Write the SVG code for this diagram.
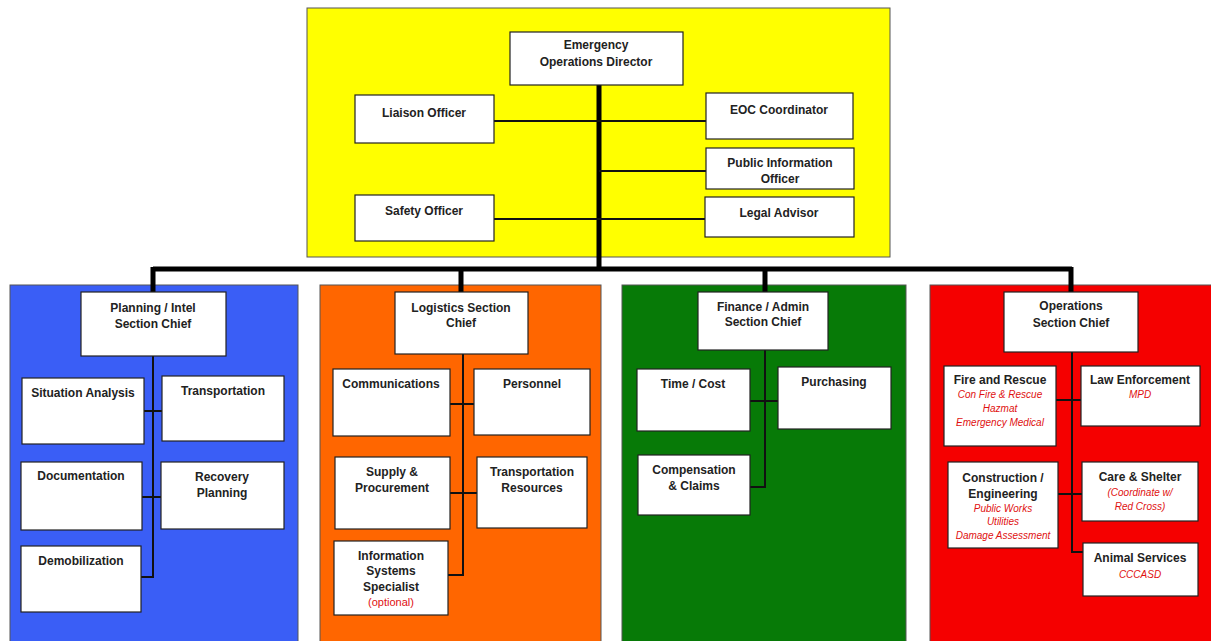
<svg xmlns="http://www.w3.org/2000/svg" width="1211" height="641" viewBox="0 0 1211 641">
<style>
.bg{fill:#ffffff}
.panel{stroke:#555;stroke-width:1}
.box{fill:#fff;stroke:#222;stroke-width:1.2}
.t{font-family:"Liberation Sans",Arial,sans-serif;font-size:12px;font-weight:bold;fill:#222;text-anchor:middle}
.r{font-family:"Liberation Sans",Arial,sans-serif;font-size:10px;font-style:italic;fill:#e01010;text-anchor:middle}
.ro{font-family:"Liberation Sans",Arial,sans-serif;font-size:11px;fill:#e01010;text-anchor:middle}
.thin{stroke:#111;stroke-width:2;fill:none}
.thick{stroke:#000;stroke-width:5;fill:none}
</style>
<rect class="bg" x="0" y="0" width="1211" height="641"/>
<rect class="panel" x="307" y="8" width="583" height="249" fill="#ffff00"/>
<rect class="panel" x="10" y="285" width="288" height="360" fill="#3a5ef6"/>
<rect class="panel" x="320" y="285" width="281" height="360" fill="#ff6600"/>
<rect class="panel" x="622" y="285" width="284" height="360" fill="#077a07"/>
<rect class="panel" x="930" y="285" width="285" height="360" fill="#f50000"/>

<g id="connectors">
<path class="thick" d="M599 85 V269 M153 269 H1072 M153 267 V292 M461 267 V292 M765 267 V292 M1071 267 V292"/>
<path class="thin" d="M494 121 H706 M599 171 H706 M494 219 H705"/>
<path class="thin" d="M153 356 V577 H141 M144 411 H162 M142 497 H161"/>
<path class="thin" d="M463 354 V575 H448 M450 404 H474 M450 493 H477"/>
<path class="thin" d="M765 350 V487 H750 M750 401 H778"/>
<path class="thin" d="M1072 352 V552 H1083 M1056 400 H1081 M1058 494 H1082"/>
</g>

<g id="director"><rect class="box" x="510" y="32" width="173" height="53"/><text class="t" x="596" y="49">Emergency</text><text class="t" x="596" y="66">Operations Director</text></g>
<g id="liaison"><rect class="box" x="355" y="95" width="139" height="48"/><text class="t" x="424" y="117">Liaison Officer</text></g>
<g id="eoc"><rect class="box" x="706" y="93" width="147" height="46"/><text class="t" x="779" y="114">EOC Coordinator</text></g>
<g id="pio"><rect class="box" x="706" y="148" width="148" height="41"/><text class="t" x="780" y="167">Public Information</text><text class="t" x="780" y="183">Officer</text></g>
<g id="safety"><rect class="box" x="355" y="195" width="139" height="46"/><text class="t" x="424" y="215">Safety Officer</text></g>
<g id="legal"><rect class="box" x="705" y="197" width="149" height="40"/><text class="t" x="779" y="217">Legal Advisor</text></g>

<g id="planning"><rect class="box" x="81" y="292" width="145" height="64"/><text class="t" x="153" y="312">Planning / Intel</text><text class="t" x="153" y="328">Section Chief</text></g>
<g id="situation"><rect class="box" x="22" y="378" width="122" height="66"/><text class="t" x="83" y="397">Situation Analysis</text></g>
<g id="transportation"><rect class="box" x="162" y="376" width="122" height="65"/><text class="t" x="223" y="395">Transportation</text></g>
<g id="documentation"><rect class="box" x="21" y="462" width="121" height="68"/><text class="t" x="81" y="480">Documentation</text></g>
<g id="recovery"><rect class="box" x="161" y="462" width="123" height="67"/><text class="t" x="222" y="481">Recovery</text><text class="t" x="222" y="497">Planning</text></g>
<g id="demobilization"><rect class="box" x="21" y="546" width="120" height="66"/><text class="t" x="81" y="565">Demobilization</text></g>

<g id="logistics"><rect class="box" x="395" y="292" width="133" height="62"/><text class="t" x="461" y="312">Logistics Section</text><text class="t" x="461" y="327">Chief</text></g>
<g id="communications"><rect class="box" x="333" y="369" width="117" height="67"/><text class="t" x="391" y="388">Communications</text></g>
<g id="personnel"><rect class="box" x="474" y="369" width="116" height="66"/><text class="t" x="532" y="388">Personnel</text></g>
<g id="supply"><rect class="box" x="335" y="457" width="115" height="72"/><text class="t" x="392" y="476">Supply &amp;</text><text class="t" x="392" y="492">Procurement</text></g>
<g id="transres"><rect class="box" x="477" y="457" width="110" height="71"/><text class="t" x="532" y="476">Transportation</text><text class="t" x="532" y="492">Resources</text></g>
<g id="infosys"><rect class="box" x="334" y="541" width="114" height="74"/><text class="t" x="391" y="560">Information</text><text class="t" x="391" y="575">Systems</text><text class="t" x="391" y="591">Specialist</text><text class="ro" x="391" y="606">(optional)</text></g>

<g id="finance"><rect class="box" x="698" y="292" width="130" height="58"/><text class="t" x="763" y="311">Finance / Admin</text><text class="t" x="763" y="326">Section Chief</text></g>
<g id="timecost"><rect class="box" x="637" y="369" width="113" height="62"/><text class="t" x="693" y="388">Time / Cost</text></g>
<g id="purchasing"><rect class="box" x="778" y="367" width="113" height="62"/><text class="t" x="834" y="386">Purchasing</text></g>
<g id="compensation"><rect class="box" x="638" y="455" width="112" height="60"/><text class="t" x="694" y="474">Compensation</text><text class="t" x="694" y="490">&amp; Claims</text></g>

<g id="operations"><rect class="box" x="1004" y="292" width="134" height="60"/><text class="t" x="1071" y="310">Operations</text><text class="t" x="1071" y="327">Section Chief</text></g>
<g id="fire"><rect class="box" x="944" y="366" width="112" height="80"/><text class="t" x="1000" y="384">Fire and Rescue</text><text class="r" x="1000" y="398">Con Fire &amp; Rescue</text><text class="r" x="1000" y="412">Hazmat</text><text class="r" x="1000" y="426">Emergency Medical</text></g>
<g id="law"><rect class="box" x="1081" y="366" width="119" height="60"/><text class="t" x="1140" y="384">Law Enforcement</text><text class="r" x="1140" y="398">MPD</text></g>
<g id="construction"><rect class="box" x="948" y="462" width="110" height="86"/><text class="t" x="1003" y="482">Construction /</text><text class="t" x="1003" y="498">Engineering</text><text class="r" x="1003" y="512">Public Works</text><text class="r" x="1003" y="525">Utilities</text><text class="r" x="1003" y="539">Damage Assessment</text></g>
<g id="care"><rect class="box" x="1082" y="462" width="116" height="59"/><text class="t" x="1140" y="481">Care &amp; Shelter</text><text class="r" x="1140" y="496">(Coordinate w/</text><text class="r" x="1140" y="510">Red Cross)</text></g>
<g id="animal"><rect class="box" x="1083" y="543" width="115" height="53"/><text class="t" x="1140" y="562">Animal Services</text><text class="r" x="1140" y="578">CCCASD</text></g>
</svg>
